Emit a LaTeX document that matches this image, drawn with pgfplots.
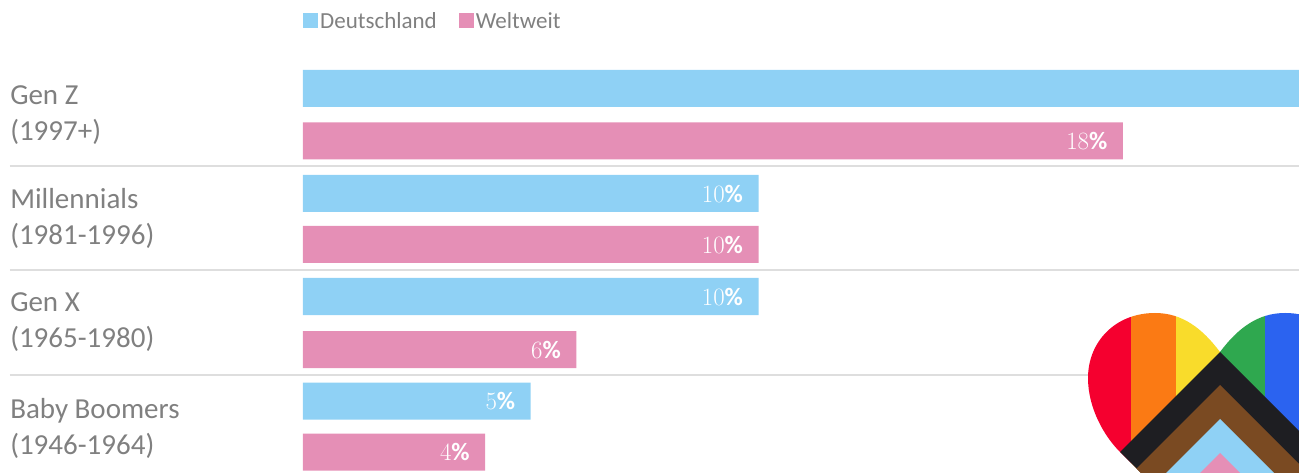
\documentclass[border=0pt]{standalone}
\usepackage{pgfplots}
\usepackage{pgfplotstable}
\usepackage{fontspec}
\setmainfont{Carlito}
\pgfplotsset{compat=1.18}
\definecolor{dblue}{HTML}{8FD1F5}
\definecolor{wpink}{HTML}{E58FB6}
\definecolor{txt}{HTML}{808080}
\definecolor{sep}{HTML}{DEDEDE}
\definecolor{hred}{HTML}{F5002F}
\definecolor{horange}{HTML}{FB7A14}
\definecolor{hyellow}{HTML}{F9DC2B}
\definecolor{hgreen}{HTML}{2FA84F}
\definecolor{hblue}{HTML}{2B63F0}
\definecolor{hblack}{HTML}{1E1E22}
\definecolor{hbrown}{HTML}{7A4A22}
\pgfplotstableread{
val ypos shift
22 88.5 -7
10 193.5 -12
10 296.5 -12
5 401 -12
}\deutschland
\pgfplotstableread{
val ypos shift
18 141 -12
10 244.5 -12
6 349.5 -12
4 452 -12
}\weltweit
\begin{document}
\begin{tikzpicture}
\path[use as bounding box] (-303pt,0pt) rectangle (996pt,473pt);
\begin{scope}[x=1pt,y=-1pt,shift={(-303pt,473pt)}]
\draw[sep,line width=1.5pt] (10,166) -- (1299,166);
\draw[sep,line width=1.5pt] (10,270) -- (1299,270);
\draw[sep,line width=1.5pt] (10,375) -- (1299,375);
\end{scope}
\begin{axis}[
  at={(0pt,0pt)}, anchor=south west,
  scale only axis, width=996pt, height=473pt,
  xmin=0, xmax=21.866, ymin=0, ymax=473, y dir=reverse,
  axis line style={draw=none}, xtick=\empty,
  ytick={115,218,322,428},
  yticklabels={{Gen Z\\(1997+)},{Millennials\\(1981-1996)},{Gen X\\(1965-1980)},{Baby Boomers\\(1946-1964)}},
  tick style={draw=none},
  yticklabel style={anchor=west, xshift=-292pt, align=left, text=txt,
    font=\fontsize{29}{36}\selectfont},
  xbar, bar width=37pt, bar shift=0pt,
  point meta=x,
  visualization depends on={\thisrow{shift} \as \lshift},
  nodes near coords={\pgfmathprintnumber{\pgfplotspointmeta}\%},
  every node near coord/.append style={anchor=east, text=white, xshift=\lshift,
    font=\fontsize{25}{28}\selectfont\bfseries},
  legend columns=2,
  legend style={at={(axis cs:0,21)}, anchor=west, draw=none, fill=none, inner sep=0pt,
    font=\fontsize{23}{26}\selectfont, text=txt,
    /tikz/every even column/.style={column sep=20pt}},
  legend image code/.code={\fill[#1] (0pt,-7.5pt) rectangle (15pt,7.5pt);},
]
\addplot[fill=dblue, draw=none] table[x=val,y=ypos] {\deutschland};
\addplot[fill=wpink, draw=none] table[x=val,y=ypos] {\weltweit};
\legend{Deutschland,Weltweit}
\end{axis}
\begin{scope}[x=1pt,y=-1pt,shift={(-303pt,473pt)}]
\clip (0,0) rectangle (1299,473);
\begin{scope}
\clip (1220,352) .. controls (1202,328) and (1182,313) .. (1155,313)
  .. controls (1115,313) and (1088,342) .. (1088,378)
  .. controls (1088,408) and (1104,436) .. (1120,452) -- (1220,552) -- (1320,452)
  .. controls (1336,436) and (1352,408) .. (1352,378)
  .. controls (1352,342) and (1325,313) .. (1285,313)
  .. controls (1258,313) and (1238,328) .. (1220,352) -- cycle;
\fill[hred] (1080,300) rectangle (1131,480);
\fill[horange] (1131,300) rectangle (1176,480);
\fill[hyellow] (1176,300) rectangle (1220,480);
\fill[hgreen] (1220,300) rectangle (1265,480);
\fill[hblue] (1265,300) rectangle (1360,480);
\fill[hblack] (1220,352) -- (1400,532) -- (1400,700) -- (1040,700) -- (1040,532) -- cycle;
\fill[hbrown] (1220,385) -- (1400,565) -- (1400,700) -- (1040,700) -- (1040,565) -- cycle;
\fill[dblue] (1220,419) -- (1400,599) -- (1400,700) -- (1040,700) -- (1040,599) -- cycle;
\fill[wpink] (1220,453) -- (1400,633) -- (1400,700) -- (1040,700) -- (1040,633) -- cycle;
\end{scope}
\end{scope}
\end{tikzpicture}
\end{document}
